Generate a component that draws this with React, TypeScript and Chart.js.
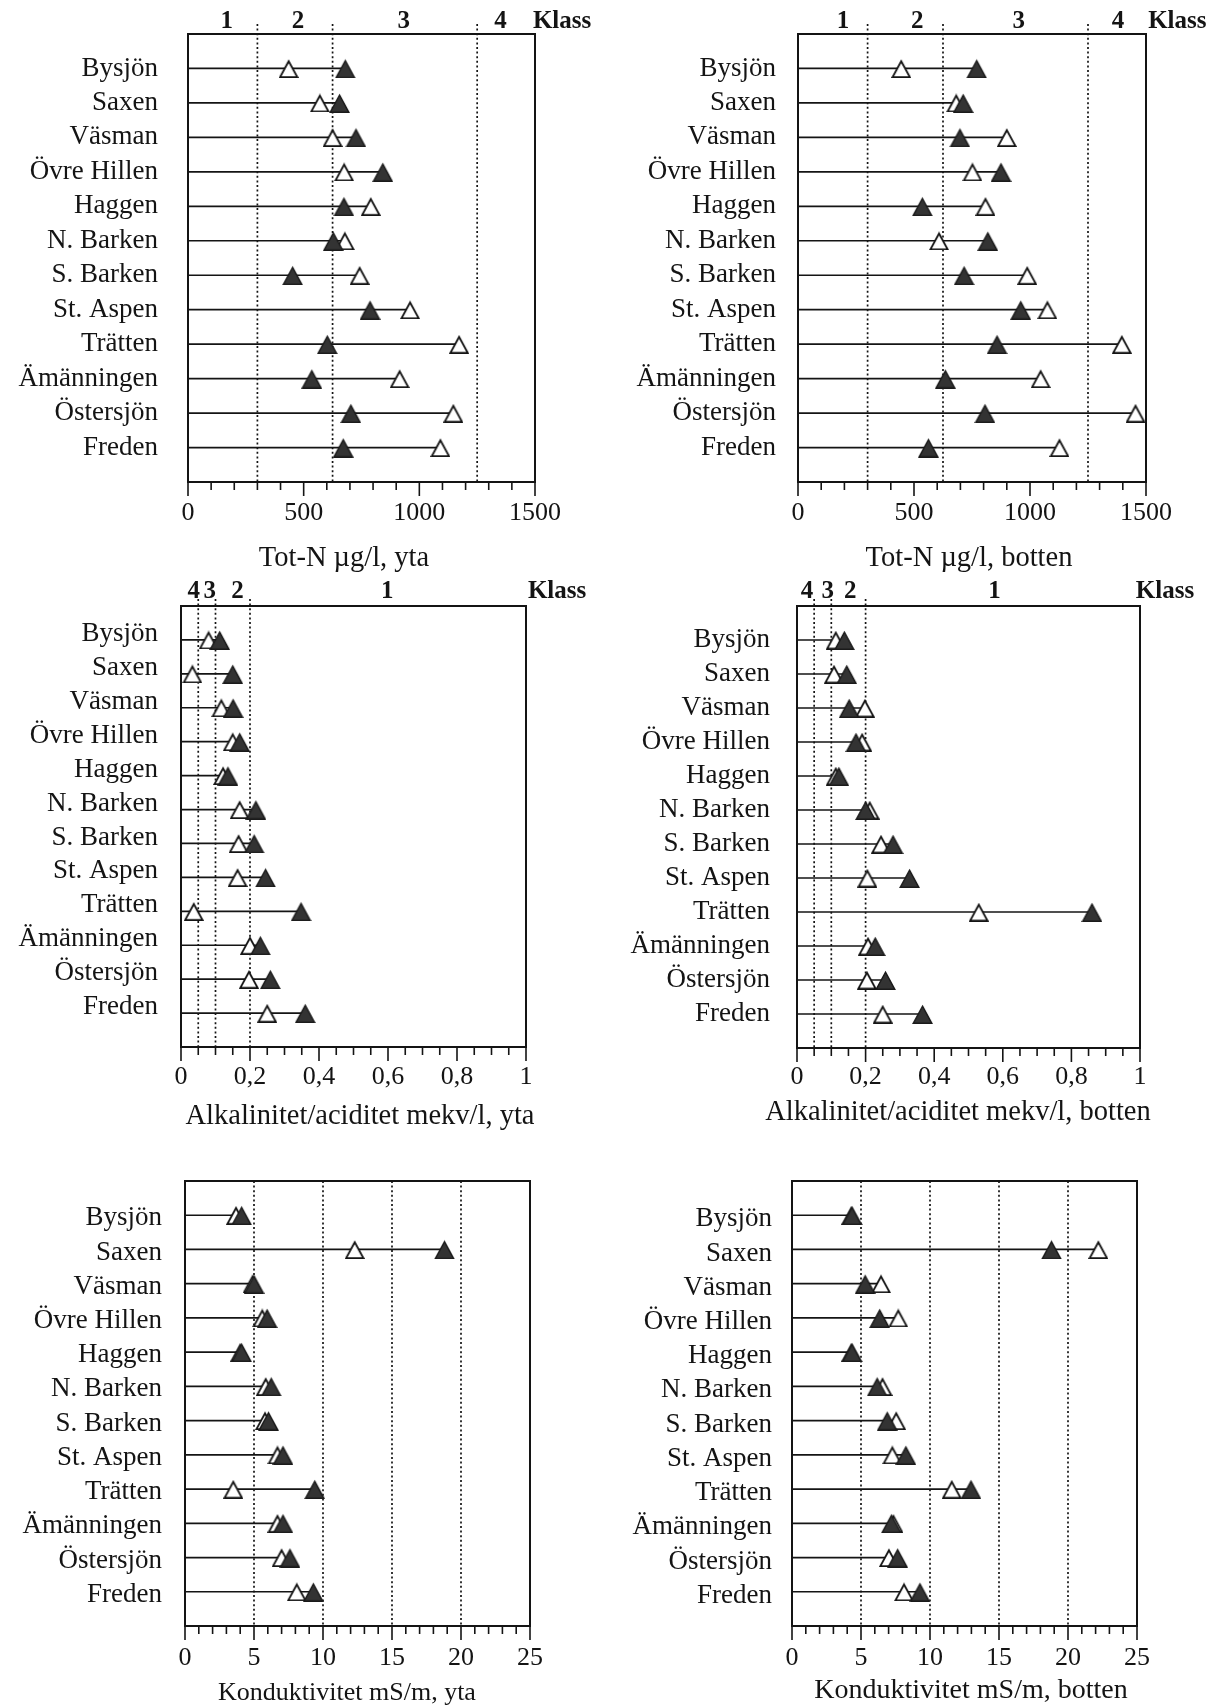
import React, { useEffect, useRef } from 'react';
import { Chart, registerables } from 'chart.js';

Chart.register(...registerables);

// ---------- data ----------
const lakes = ['Bysjön', 'Saxen', 'Väsman', 'Övre Hillen', 'Haggen', 'N. Barken', 'S. Barken', 'St. Aspen', 'Trätten', 'Ämänningen', 'Östersjön', 'Freden'];

const totNYtaOpen = [435, 570, 625, 675, 790, 678, 742, 960, 1172, 915, 1147, 1091];
const totNYtaFilled = [680, 655, 726, 842, 674, 628, 452, 787, 602, 535, 704, 671];
const totNBottenOpen = [445, 682, 900, 752, 808, 608, 988, 1075, 1396, 1046, 1455, 1127];
const totNBottenFilled = [770, 712, 698, 875, 536, 818, 716, 960, 858, 635, 806, 562];

const alkYtaOpen = [0.08, 0.033, 0.117, 0.15, 0.122, 0.17, 0.167, 0.164, 0.037, 0.2, 0.197, 0.25];
const alkYtaFilled = [0.112, 0.15, 0.151, 0.17, 0.136, 0.217, 0.212, 0.245, 0.348, 0.23, 0.259, 0.36];
const alkBottenOpen = [0.113, 0.108, 0.198, 0.19, 0.113, 0.212, 0.245, 0.205, 0.53, 0.207, 0.204, 0.25];
const alkBottenFilled = [0.138, 0.145, 0.152, 0.172, 0.122, 0.2, 0.28, 0.328, 0.86, 0.228, 0.258, 0.366];

const kondYtaOpen = [3.7, 12.3, 4.9, 5.6, 4.0, 5.85, 5.8, 6.7, 3.5, 6.7, 7.0, 8.1];
const kondYtaFilled = [4.1, 18.8, 5.0, 5.95, 4.1, 6.25, 6.05, 7.1, 9.4, 7.1, 7.6, 9.3];
const kondBottenOpen = [4.3, 22.2, 6.45, 7.7, 4.3, 6.56, 7.55, 7.27, 11.58, 7.35, 7.02, 8.12];
const kondBottenFilled = [4.35, 18.8, 5.3, 6.35, 4.35, 6.17, 6.9, 8.25, 12.97, 7.2, 7.65, 9.27];

const totNLimits = [300, 625, 1250];
const alkLimits = [0.05, 0.1, 0.2];
const kondLimits = [5, 10, 15, 20];

const totNClassText = ['1', '2', '3', '4', 'Klass'];
const alkClassText = ['4', '3', '2', '1', 'Klass'];

// ---------- layout ----------
const FAM = "'Liberation Serif', 'Times New Roman', serif";
const INK = '#141414';

type Spec = {
  left: number; top: number; w: number; h: number;
  L: number; R: number; T: number; B: number;
  max: number; major: number; minor: number;
  open: number[]; filled: number[];
  limits: number[]; limitExt: number;
  header: string[] | null; headerX: number[]; headerY: number;
  title: string; titleX: number; titleY: number; titleSize: number;
  tickPad: number; labelPad: number; labelOffset: number;
};

const specs: Spec[] = [
  {
    left: 0, top: 0, w: 611, h: 580, L: 188, R: 535, T: 34, B: 482,
    max: 1500, major: 500, minor: 100, open: totNYtaOpen, filled: totNYtaFilled,
    limits: totNLimits, limitExt: 10, header: totNClassText, headerX: [168, 476, 933, 1351, 1617], headerY: 22,
    title: 'Tot-N µg/l, yta', titleX: 344, titleY: 566, titleSize: 28.5, tickPad: 16, labelPad: 30, labelOffset: 0,
  },
  {
    left: 611, top: 0, w: 612, h: 580, L: 187, R: 535, T: 34, B: 482,
    max: 1500, major: 500, minor: 100, open: totNBottenOpen, filled: totNBottenFilled,
    limits: totNLimits, limitExt: 10, header: totNClassText, headerX: [194, 514, 952, 1379, 1635], headerY: 22,
    title: 'Tot-N µg/l, botten', titleX: 358, titleY: 566, titleSize: 28.5, tickPad: 16, labelPad: 22, labelOffset: 0,
  },
  {
    left: 0, top: 575, w: 611, h: 560, L: 181, R: 526, T: 31, B: 472,
    max: 1, major: 0.2, minor: 0.05, open: alkYtaOpen, filled: alkYtaFilled,
    limits: alkLimits, limitExt: 7, header: alkClassText, headerX: [0.037, 0.083, 0.164, 0.598, 1.09], headerY: 17,
    title: 'Alkalinitet/aciditet mekv/l, yta', titleX: 360, titleY: 549, titleSize: 28.5, tickPad: 15, labelPad: 23, labelOffset: -6,
  },
  {
    left: 611, top: 575, w: 612, h: 560, L: 186, R: 529, T: 31, B: 473,
    max: 1, major: 0.2, minor: 0.05, open: alkBottenOpen, filled: alkBottenFilled,
    limits: alkLimits, limitExt: 7, header: alkClassText, headerX: [0.029, 0.09, 0.155, 0.576, 1.073], headerY: 17,
    title: 'Alkalinitet/aciditet mekv/l, botten', titleX: 347, titleY: 545, titleSize: 28.5, tickPad: 14, labelPad: 27, labelOffset: 0,
  },
  {
    left: 0, top: 1140, w: 611, h: 567, L: 185, R: 530, T: 41, B: 486,
    max: 25, major: 5, minor: 1, open: kondYtaOpen, filled: kondYtaFilled,
    limits: kondLimits, limitExt: 0, header: null, headerX: [], headerY: 0,
    title: 'Konduktivitet mS/m, yta', titleX: 347, titleY: 560, titleSize: 26, tickPad: 17, labelPad: 23, labelOffset: 3,
  },
  {
    left: 611, top: 1140, w: 612, h: 567, L: 181, R: 526, T: 41, B: 486,
    max: 25, major: 5, minor: 1, open: kondBottenOpen, filled: kondBottenFilled,
    limits: kondLimits, limitExt: 0, header: null, headerX: [], headerY: 0,
    title: 'Konduktivitet mS/m, botten', titleX: 360, titleY: 558, titleSize: 28, tickPad: 17, labelPad: 20, labelOffset: 4,
  },
];

function triImg(fill: string, stroke: string, w: number, h: number, lw: number) {
  const c = document.createElement('canvas');
  c.width = w;
  c.height = h;
  const g = c.getContext('2d')!;
  g.beginPath();
  g.moveTo(w / 2, 2.2);
  g.lineTo(w - lw / 2 - 0.5, h - lw / 2);
  g.lineTo(lw / 2 + 0.5, h - lw / 2);
  g.closePath();
  g.fillStyle = fill;
  g.fill();
  g.lineWidth = lw;
  g.strokeStyle = stroke;
  g.lineJoin = 'miter';
  g.stroke();
  return c;
}

function fmtNum(v: number) {
  const r = Math.round(v * 1000) / 1000;
  return String(r).replace('.', ',');
}

function makeDecor(p: Spec) {
  return {
    id: 'decor',
    beforeDatasetsDraw(chart: any) {
      const { ctx, chartArea: a } = chart;
      const xs = chart.scales.x;
      ctx.save();
      ctx.strokeStyle = INK;
      ctx.lineWidth = 1.7;
      ctx.setLineDash([2, 2.6]);
      for (const v of p.limits) {
        const px = xs.getPixelForValue(v);
        ctx.beginPath();
        ctx.moveTo(px, a.top - p.limitExt);
        ctx.lineTo(px, a.bottom);
        ctx.stroke();
      }
      ctx.restore();
    },
    afterDraw(chart: any) {
      const { ctx, chartArea: a } = chart;
      const xs = chart.scales.x;
      ctx.save();
      ctx.strokeStyle = INK;
      ctx.fillStyle = INK;
      // frame
      ctx.lineWidth = 2;
      ctx.strokeRect(a.left, a.top, a.right - a.left, a.bottom - a.top);
      // tick marks
      ctx.lineWidth = 1.6;
      const n = Math.round(p.max / p.minor);
      const every = Math.round(p.major / p.minor);
      for (let k = 0; k <= n; k++) {
        const px = xs.getPixelForValue(k * p.minor);
        const len = k % every === 0 ? 14 : 8;
        ctx.beginPath();
        ctx.moveTo(px, a.bottom);
        ctx.lineTo(px, a.bottom + len);
        ctx.stroke();
      }
      // class header
      if (p.header) {
        ctx.font = `bold 25px ${FAM}`;
        ctx.textAlign = 'center';
        ctx.textBaseline = 'middle';
        p.header.forEach((t, i) => {
          ctx.fillText(t, xs.getPixelForValue(p.headerX[i]), p.headerY);
        });
      }
      // axis title
      ctx.font = `${p.titleSize}px ${FAM}`;
      ctx.textAlign = 'center';
      ctx.textBaseline = 'alphabetic';
      ctx.fillText(p.title, p.titleX, p.titleY);
      ctx.restore();
    },
  };
}

function Panel({ p }: { p: Spec }) {
  const ref = useRef<HTMLCanvasElement>(null);
  useEffect(() => {
    const openImg = triImg('#ffffff', INK, 20, 19, 1.8);
    const filledImg = triImg('#333333', '#1a1a1a', 21, 20, 1.4);
    const stems = lakes.map((_, i) => ({
      type: 'scatter' as const,
      data: [
        { x: 0, y: i },
        { x: Math.max(p.open[i], p.filled[i]), y: i },
      ],
      showLine: true,
      borderColor: INK,
      borderWidth: 1.7,
      pointRadius: 0,
      order: 2,
      clip: false as any,
    }));
    const chart = new Chart(ref.current!, {
      type: 'scatter',
      data: {
        datasets: [
          {
            data: lakes.map((_, i) => ({ x: p.filled[i], y: i })),
            pointStyle: filledImg as any,
            pointRadius: 10,
            order: 0,
            clip: false as any,
          },
          {
            data: lakes.map((_, i) => ({ x: p.open[i], y: i })),
            pointStyle: openImg as any,
            pointRadius: 10,
            order: 1,
            clip: false as any,
          },
          ...stems,
        ] as any,
      },
      options: {
        animation: false,
        responsive: false,
        events: [],
        layout: { padding: { left: 0, top: p.T, right: p.w - p.R, bottom: 0 } },
        plugins: { legend: { display: false }, tooltip: { enabled: false } },
        scales: {
          x: {
            type: 'linear',
            position: 'bottom',
            min: 0,
            max: p.max,
            grid: { display: false, drawTicks: false },
            border: { display: false },
            ticks: {
              stepSize: p.major,
              maxTicksLimit: 100,
              padding: p.tickPad,
              color: INK,
              font: { family: FAM, size: 26 },
              maxRotation: 0,
              autoSkip: false,
              callback: (v: any) => fmtNum(Number(v)),
            },
            afterFit: (s: any) => {
              s.height = p.h - p.B;
            },
          },
          y: {
            type: 'linear',
            position: 'left',
            reverse: true,
            min: -1,
            max: 12,
            grid: {
              display: true,
              drawOnChartArea: false,
              drawTicks: true,
              tickLength: p.labelPad,
              color: 'rgba(0,0,0,0)',
            },
            border: { display: false },
            ticks: {
              stepSize: 1,
              maxTicksLimit: 100,
              autoSkip: false,
              padding: 0,
              labelOffset: p.labelOffset,
              color: INK,
              font: { family: FAM, size: 27 },
              callback: (v: any) => {
                const i = Math.round(Number(v));
                return lakes[i] !== undefined ? lakes[i] : '';
              },
            },
            afterFit: (s: any) => {
              s.width = p.L;
            },
          },
        },
      },
      plugins: [makeDecor(p)],
    } as any);
    return () => chart.destroy();
  }, []);
  return (
    <canvas
      ref={ref}
      width={p.w}
      height={p.h}
      style={{ position: 'absolute', left: p.left, top: p.top, width: p.w, height: p.h }}
    />
  );
}

export default function App() {
  return (
    <div style={{ position: 'absolute', left: 0, top: 0, width: 1223, height: 1707, background: '#ffffff' }}>
      {specs.map((p, i) => (
        <Panel key={i} p={p} />
      ))}
    </div>
  );
}
